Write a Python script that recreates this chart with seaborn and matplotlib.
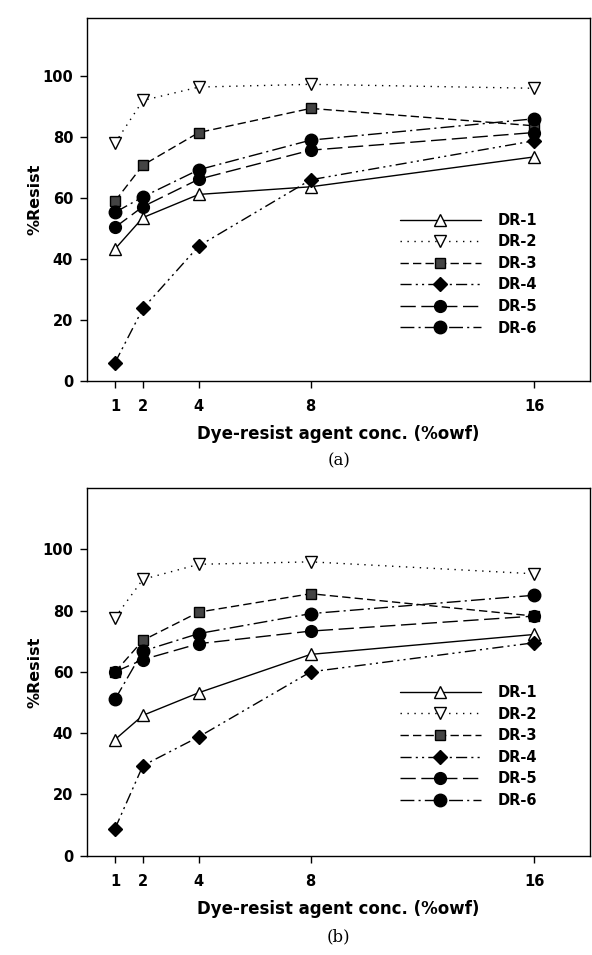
import matplotlib
matplotlib.use("Agg")
import matplotlib.pyplot as plt
import seaborn as sns

conc = [1, 2, 4, 8, 16]
series_names = ["DR-1", "DR-2", "DR-3", "DR-4", "DR-5", "DR-6"]

# panel (a)
resist_a = {
    "DR-1": [43.3, 53.6, 61.2, 63.7, 73.5],
    "DR-2": [78.0, 92.0, 96.4, 97.3, 96.0],
    "DR-3": [59.0, 70.8, 81.5, 89.4, 83.7],
    "DR-4": [6.0, 23.8, 44.3, 66.0, 78.8],
    "DR-5": [50.4, 57.2, 66.2, 75.7, 81.5],
    "DR-6": [55.3, 60.4, 69.3, 79.0, 86.0],
}

# panel (b)
resist_b = {
    "DR-1": [37.9, 45.8, 53.2, 65.7, 72.2],
    "DR-2": [77.7, 90.2, 95.1, 95.9, 92.0],
    "DR-3": [59.9, 70.3, 79.5, 85.5, 78.2],
    "DR-4": [8.8, 29.4, 38.8, 60.0, 69.5],
    "DR-5": [60.0, 64.0, 69.2, 73.3, 78.2],
    "DR-6": [51.0, 66.8, 72.5, 79.0, 85.0],
}

styles = {
    "DR-1": dict(marker="^", linestyle="-", mfc="white", ms=9),
    "DR-2": dict(marker="v", linestyle=(0, (1, 4)), mfc="white", ms=9),
    "DR-3": dict(marker="s", linestyle=(0, (6, 3)), mfc="#444444", ms=7.5),
    "DR-4": dict(marker="D", linestyle=(0, (8, 3, 1.5, 3, 1.5, 3)), mfc="black", ms=7),
    "DR-5": dict(marker="o", linestyle=(0, (11, 4)), mfc="black", ms=8.5),
    "DR-6": dict(marker="o", linestyle=(0, (10, 3, 1.5, 3)), mfc="black", ms=9),
}

sns.set_theme(style="ticks")
plt.rcParams["font.family"] = ["DejaVu Sans"]
plt.rcParams["text.color"] = "black"
plt.rcParams["axes.labelcolor"] = "black"

fig = plt.figure(figsize=(5.92, 9.55), dpi=100)
ax_a = fig.add_axes([0.147, 0.601, 0.850, 0.380])
ax_b = fig.add_axes([0.147, 0.104, 0.850, 0.385])


def draw_panel(ax, data, ymax, tag, leg_y):
    for name in series_names:
        st = styles[name]
        sns.lineplot(x=conc, y=data[name], ax=ax, color="black", linewidth=1.0,
                     linestyle=st["linestyle"], marker=st["marker"],
                     markersize=st["ms"], markerfacecolor=st["mfc"],
                     markeredgecolor="black", markeredgewidth=1.0, label=name)
    ax.set_xlim(0, 18)
    ax.set_ylim(0, ymax)
    ax.set_xticks(conc)
    ax.set_yticks([0, 20, 40, 60, 80, 100])
    ax.tick_params(axis="both", direction="out", length=5, width=1,
                   labelsize=10.5, colors="black")
    ax.tick_params(axis="x", pad=8)
    ax.tick_params(axis="y", pad=5)
    for lab in ax.get_xticklabels() + ax.get_yticklabels():
        lab.set_fontweight("bold")
    for sp in ax.spines.values():
        sp.set_visible(True)
        sp.set_linewidth(1.0)
        sp.set_color("black")
    ax.set_xlabel("Dye-resist agent conc. (%owf)", fontsize=12, fontweight="bold",
                  labelpad=8)
    ax.set_ylabel("%Resist", fontsize=11.5, fontweight="bold", labelpad=0)
    leg = ax.legend(loc="upper left", bbox_to_anchor=(0.595, leg_y), frameon=False,
                    handlelength=5.6, handletextpad=1.1, labelspacing=0.45,
                    prop={"weight": "bold", "size": 10.5})
    for t in leg.get_texts():
        t.set_color("black")
    ax.text(0.5, -0.22, tag, transform=ax.transAxes, ha="center", va="center",
            fontsize=12, family="DejaVu Serif")


draw_panel(ax_a, resist_a, 119, "(a)", 0.50)
draw_panel(ax_b, resist_b, 120, "(b)", 0.50)

fig.savefig("out.png", dpi=100)
